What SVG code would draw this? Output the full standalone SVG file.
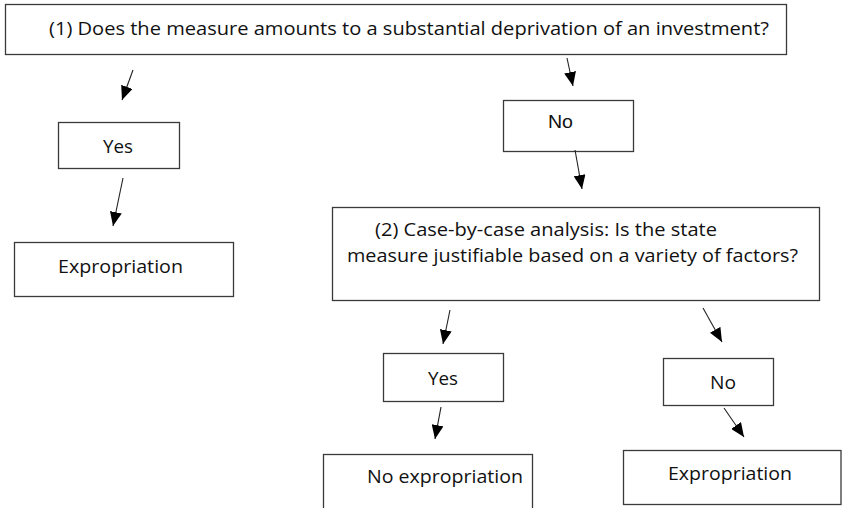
<svg xmlns="http://www.w3.org/2000/svg" width="842" height="508" viewBox="0 0 842 508">
<defs>
<style>
.box{fill:#fff;stroke:#3a3a3a;stroke-width:1.3}
.t{font-family:"Open Sans",Lato,"Liberation Sans",sans-serif;font-size:19px;fill:#111}
.ta{font-family:"Liberation Sans",Arial,sans-serif;font-size:18.5px;fill:#111}
.c{stroke:#222;stroke-width:1.1;fill:none;marker-end:url(#ah)}
</style>
<marker id="ah" markerUnits="userSpaceOnUse" markerWidth="14" markerHeight="12" viewBox="0 0 14 12" refX="14" refY="6" orient="auto">
<path d="M0,0 L14,6 L0,12 Z" fill="#000"/>
</marker>
</defs>
<rect width="842" height="508" fill="#fff"/>
<g id="q1">
<rect class="box" x="5.5" y="4.5" width="781" height="50"/>
<text class="t" x="49" y="35" textLength="720" lengthAdjust="spacingAndGlyphs">(1) Does the measure amounts to a substantial deprivation of an investment?</text>
</g>
<g id="yes1">
<rect class="box" x="58.5" y="122.5" width="121" height="46"/>
<text class="t" x="103" y="153" textLength="30" lengthAdjust="spacingAndGlyphs">Yes</text>
</g>
<g id="exp1">
<rect class="box" x="14.5" y="242.5" width="219" height="54"/>
<text class="t" x="58" y="273" textLength="125" lengthAdjust="spacingAndGlyphs">Expropriation</text>
</g>
<g id="no1">
<rect class="box" x="503.5" y="100.5" width="130" height="51"/>
<text class="ta" x="548" y="128" textLength="25" lengthAdjust="spacingAndGlyphs">No</text>
</g>
<g id="q2">
<rect class="box" x="332.5" y="207.5" width="487" height="93"/>
<text class="t" x="375" y="235.5" textLength="342" lengthAdjust="spacingAndGlyphs">(2) Case-by-case analysis: Is the state</text>
<text class="t" x="347" y="261.5" textLength="451" lengthAdjust="spacingAndGlyphs">measure justifiable based on a variety of factors?</text>
</g>
<g id="yes2">
<rect class="box" x="383.5" y="353.5" width="120" height="48"/>
<text class="t" x="428" y="385" textLength="30" lengthAdjust="spacingAndGlyphs">Yes</text>
</g>
<g id="no2">
<rect class="box" x="663.5" y="358.5" width="110" height="47"/>
<text class="t" x="710" y="389" textLength="26" lengthAdjust="spacingAndGlyphs">No</text>
</g>
<g id="noexp">
<rect class="box" x="323.5" y="454.5" width="209" height="60"/>
<text class="t" x="367" y="483" textLength="156" lengthAdjust="spacingAndGlyphs">No expropriation</text>
</g>
<g id="exp2">
<rect class="box" x="623.5" y="450.5" width="217.5" height="54"/>
<text class="t" x="668" y="480" textLength="124" lengthAdjust="spacingAndGlyphs">Expropriation</text>
</g>
<g id="connectors">
<line class="c" x1="133" y1="70" x2="122" y2="100"/>
<line class="c" x1="567" y1="58" x2="573" y2="86"/>
<line class="c" x1="123" y1="178" x2="113" y2="226"/>
<line class="c" x1="575" y1="150" x2="582" y2="189"/>
<line class="c" x1="450" y1="310" x2="443" y2="344"/>
<line class="c" x1="703" y1="308" x2="722" y2="342"/>
<line class="c" x1="441" y1="407" x2="435" y2="439"/>
<line class="c" x1="724" y1="408" x2="744" y2="437"/>
</g>
</svg>
